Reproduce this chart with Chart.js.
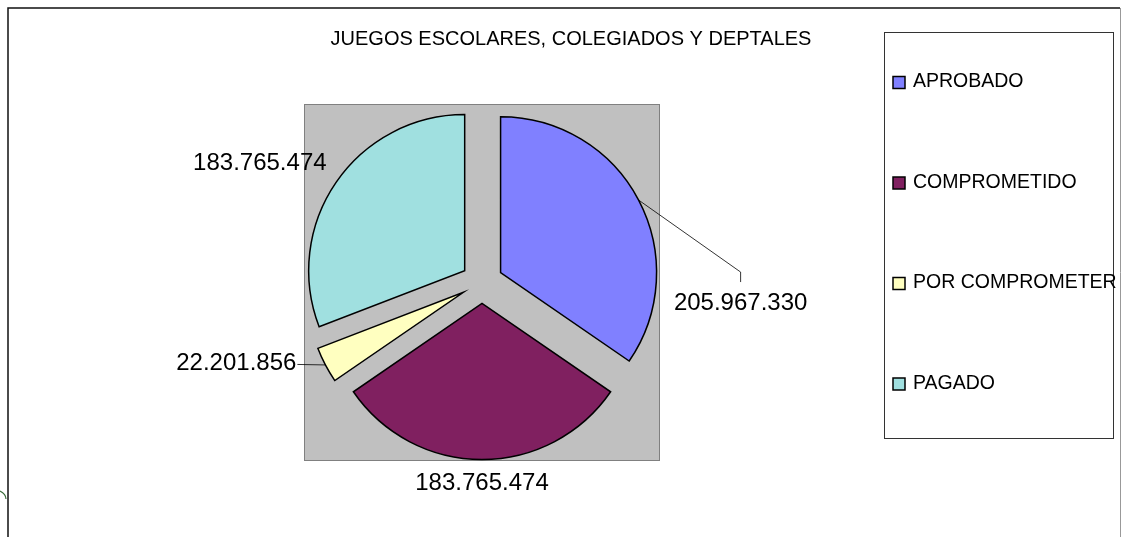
<!DOCTYPE html>
<html>
<head>
<meta charset="utf-8">
<script src="https://cdn.jsdelivr.net/npm/chart.js@4.4.1/dist/chart.umd.min.js"></script>
<style>
  html, body { margin: 0; padding: 0; background: #fff; }
  canvas { display: block; }
</style>
</head>
<body>
<canvas id="chart" width="1121" height="537"></canvas>
<script>
const title = 'JUEGOS ESCOLARES, COLEGIADOS Y DEPTALES';
const categories = ['APROBADO', 'COMPROMETIDO', 'POR COMPROMETER', 'PAGADO'];
const values = [205967330, 183765474, 22201856, 183765474];
const colors = ['#8080ff', '#802060', '#ffffc0', '#a0e0e0'];

const FONT = '"Liberation Sans", Arial, sans-serif';
const RADIUS = 156;
const EXPLODE = 21; // how far each slice is pulled out, px

// 205967330 -> 205.967.330
function fmt(v) {
  return v.toString().replace(/\B(?=(\d{3})+(?!\d))/g, '.');
}

const decor = {
  id: 'decor',
  // chart.js grows the radius of exploded slices a bit, undo that so all slices stay the same size
  afterDatasetUpdate(chart, args) {
    args.meta.data.forEach(arc => {
      const shift = EXPLODE * (1 - Math.sin(Math.min(Math.PI, arc.circumference)));
      arc.outerRadius = RADIUS - shift;
      const widen = shift / (Math.PI * RADIUS) / 2;
      arc.startAngle -= widen;
      arc.endAngle += widen;
    });
  },
  beforeDraw(chart) {
    const ctx = chart.ctx;
    const a = chart.chartArea;
    ctx.save();
    ctx.fillStyle = '#fff';
    ctx.fillRect(0, 0, chart.width, chart.height);

    // outer frame
    ctx.strokeStyle = '#111';
    ctx.lineWidth = 1.5;
    ctx.beginPath();
    ctx.moveTo(8, chart.height);
    ctx.lineTo(8, 8);
    ctx.lineTo(1120, 8);
    ctx.stroke();
    ctx.strokeStyle = '#999';
    ctx.lineWidth = 1;
    ctx.beginPath();
    ctx.moveTo(1120.5, 8);
    ctx.lineTo(1120.5, chart.height);
    ctx.stroke();

    // little green bit at the left edge
    ctx.strokeStyle = '#3a6b3a';
    ctx.lineWidth = 1.2;
    ctx.beginPath();
    ctx.moveTo(0, 491);
    ctx.quadraticCurveTo(6, 494, 6, 499);
    ctx.stroke();

    // plot area
    ctx.fillStyle = '#c0c0c0';
    ctx.fillRect(a.left, a.top, a.right - a.left, a.bottom - a.top);
    ctx.strokeStyle = '#808080';
    ctx.lineWidth = 1;
    ctx.strokeRect(a.left + 0.5, a.top + 0.5, a.right - a.left - 1, a.bottom - a.top - 1);
    ctx.restore();
  },
  afterDraw(chart) {
    const ctx = chart.ctx;
    ctx.save();
    ctx.fillStyle = '#000';

    // title
    ctx.font = '20px ' + FONT;
    ctx.textAlign = 'center';
    ctx.textBaseline = 'middle';
    ctx.fillText(title, 571, 39);

    // legend
    ctx.strokeStyle = '#333';
    ctx.lineWidth = 1;
    ctx.strokeRect(884.5, 32.5, 229, 406);
    ctx.font = '19.5px ' + FONT;
    ctx.textAlign = 'left';
    categories.forEach((name, i) => {
      const y = 82 + i * 100.5;
      ctx.fillStyle = colors[i];
      ctx.fillRect(893, y - 5.5, 12, 12);
      ctx.strokeStyle = '#000';
      ctx.lineWidth = 1.5;
      ctx.strokeRect(893, y - 5.5, 12, 12);
      ctx.fillStyle = '#000';
      ctx.fillText(name, 913, y);
    });

    // value labels
    const meta = chart.getDatasetMeta(0);
    ctx.font = '24px ' + FONT;
    ctx.strokeStyle = '#000';
    ctx.lineWidth = 0.8;
    meta.data.forEach((arc, i) => {
      const mid = (arc.startAngle + arc.endAngle) / 2;
      const px = arc.x + Math.cos(mid) * (EXPLODE + RADIUS);
      const py = arc.y + Math.sin(mid) * (EXPLODE + RADIUS);
      const text = fmt(values[i]);
      if (i === 0) {
        ctx.beginPath();
        ctx.moveTo(px, py);
        ctx.lineTo(px + 102, py + 72);
        ctx.lineTo(px + 102, py + 82);
        ctx.stroke();
        ctx.textAlign = 'center';
        ctx.fillText(text, px + 102, py + 103);
      } else if (i === 1) {
        ctx.textAlign = 'center';
        ctx.fillText(text, px, py + 24);
      } else if (i === 2) {
        ctx.beginPath();
        ctx.moveTo(px, py);
        ctx.lineTo(px - 28, py - 0.5);
        ctx.stroke();
        ctx.textAlign = 'right';
        ctx.fillText(text, px - 29, py - 1.5);
      } else {
        ctx.textAlign = 'right';
        ctx.fillText(text, px - 9.5, py - 19);
      }
    });
    ctx.restore();
  }
};

new Chart(document.getElementById('chart'), {
  type: 'pie',
  data: {
    labels: categories,
    datasets: [{
      data: values,
      backgroundColor: colors,
      borderColor: '#000',
      borderWidth: 1.5,
      borderJoinStyle: 'miter',
      offset: EXPLODE * 4,
      radius: RADIUS
    }]
  },
  options: {
    responsive: false,
    animation: false,
    layout: {padding: {left: 304, top: 104, right: 461, bottom: 76}},
    plugins: {
      legend: {display: false},
      title: {display: false},
      tooltip: {enabled: false}
    }
  },
  plugins: [decor]
});
</script>
</body>
</html>
